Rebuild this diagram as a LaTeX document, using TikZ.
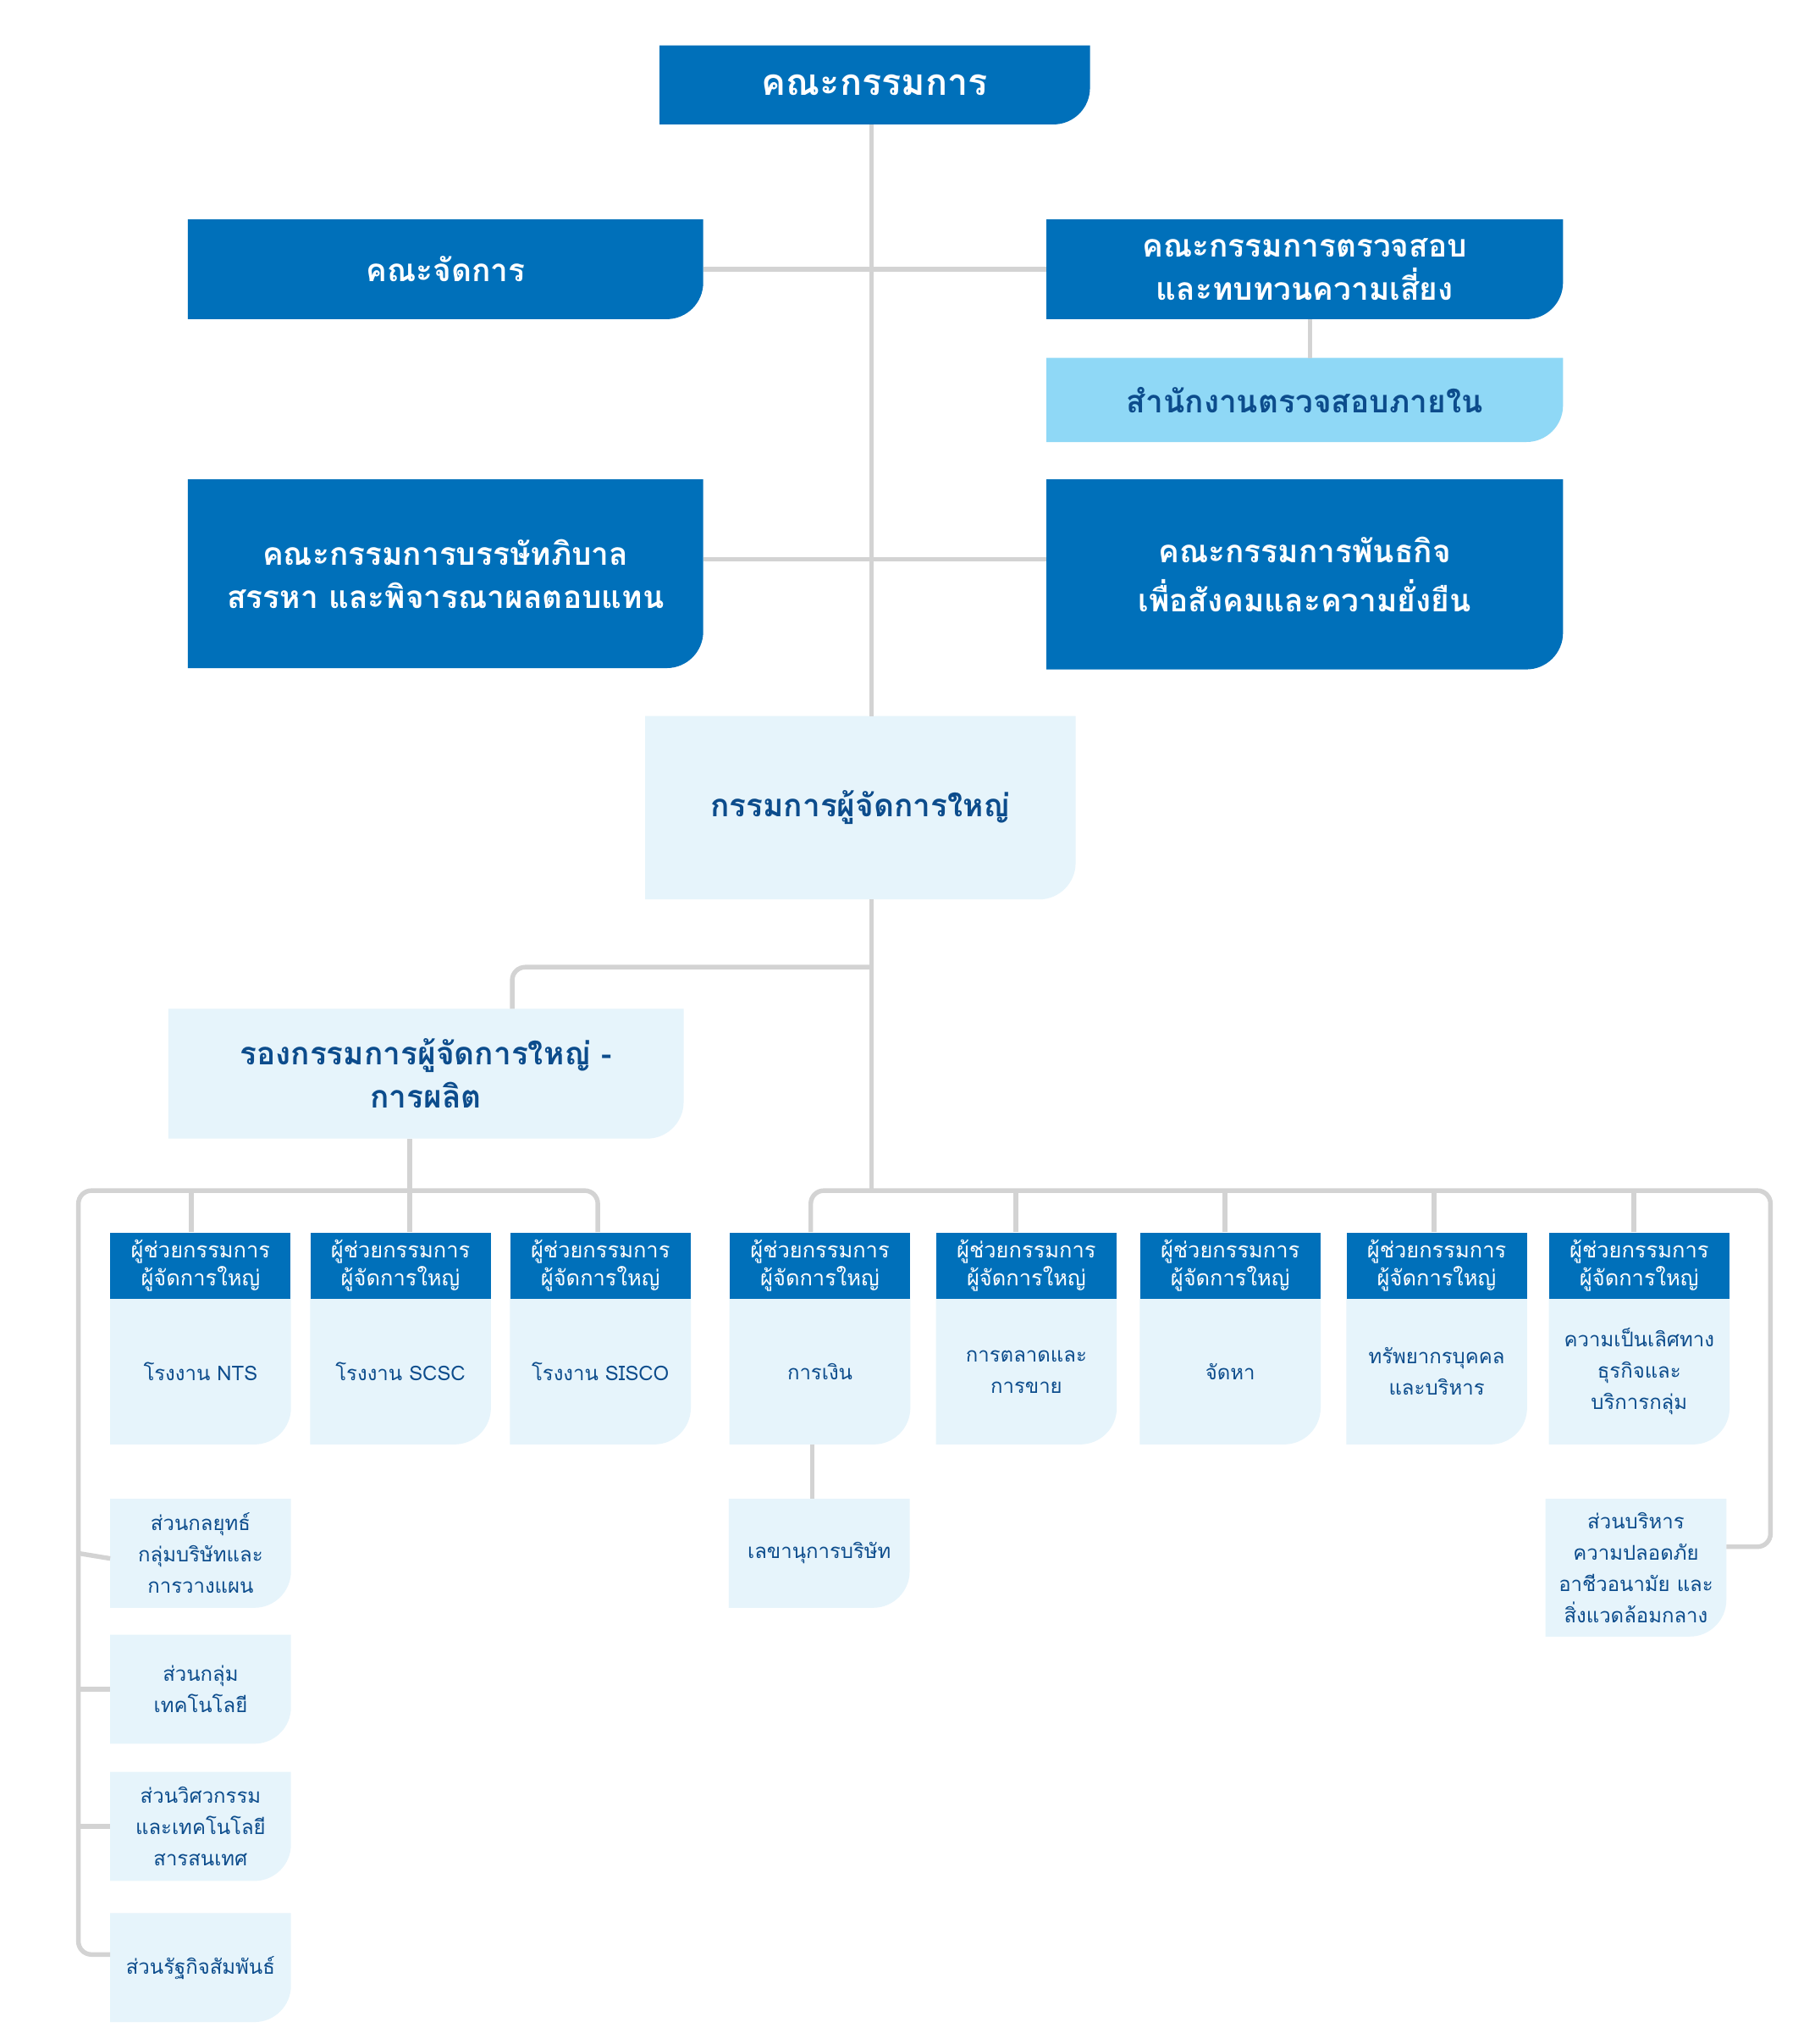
\documentclass[tikz,border=0pt]{standalone}
\usepackage{fontspec}
\newfontfamily\thai[Script=Thai]{Loma}
\usetikzlibrary{backgrounds}

\definecolor{azul}{RGB}{0,112,186}
\definecolor{celeste}{RGB}{143,216,246}
\definecolor{claro}{RGB}{230,244,251}
\definecolor{marinho}{RGB}{12,76,140}
\definecolor{cinza}{RGB}{211,211,211}

% caixa com o canto inferior direito arredondado
\newcommand{\caixa}[2]{\fill[#2] (#1.north west) -- (#1.north east) -- ([yshift=28pt]#1.south east) arc[start angle=0, end angle=-90, radius=28pt] -- (#1.south west) -- cycle;}

\begin{document}
\begin{tikzpicture}[x=1pt, y=-1pt]

    % estilos
    \tikzstyle{titulo}=[text=white, font=\thai\bfseries\fontsize{24}{33}\selectfont, align=center, inner sep=0pt]
    \tikzstyle{destaque}=[text=marinho, font=\thai\bfseries\fontsize{24}{33}\selectfont, align=center, inner sep=0pt]
    \tikzstyle{cabeca}=[fill=azul, text=white, font=\thai\fontsize{16.5}{21}\selectfont, align=center, minimum width=138pt, minimum height=51pt, inner sep=0pt]
    \tikzstyle{corpo}=[text=marinho, font=\thai\fontsize{15.5}{24}\selectfont, align=center, minimum width=138pt, inner sep=0pt]
    \tikzstyle{linha}=[cinza, line width=3.5pt]

    \useasboundingbox (0,0) rectangle (1389,1564);

    % diretoria
    \node[titulo, font=\thai\bfseries\fontsize{28}{33}\selectfont, minimum width=329pt, minimum height=60pt] (board) at (669.5,65) {คณะกรรมการ};
    \node[titulo, minimum width=394pt, minimum height=76pt] (mgmt) at (341,206) {คณะจัดการ};
    \node[titulo, minimum width=395pt, minimum height=76pt] (audit) at (998.5,206) {คณะกรรมการตรวจสอบ\\และทบทวนความเสี่ยง};
    \node[destaque, minimum width=395pt, minimum height=64pt] (ia) at (998.5,306) {สำนักงานตรวจสอบภายใน};
    \node[titulo, minimum width=394pt, minimum height=144pt] (gov) at (341,439) {คณะกรรมการบรรษัทภิบาล\\สรรหา และพิจารณาผลตอบแทน};
    \node[titulo, minimum width=395pt, minimum height=145pt] (csr) at (998.5,439.5) {คณะกรรมการพันธกิจ\\[5pt]เพื่อสังคมและความยั่งยืน};
    \node[destaque, minimum width=329pt, minimum height=140pt] (ceo) at (658.5,618) {\raisebox{-4pt}{กรรมการผู้จัดการใหญ่}};
    \node[destaque, minimum width=394pt, minimum height=99pt] (svp) at (326,821.5) {รองกรรมการผู้จัดการใหญ่ -\\การผลิต};

    % ผู้ช่วยกรรมการผู้จัดการใหญ่
    \node[cabeca] (h1) at (153.5,968.5) {ผู้ช่วยกรรมการ\\ผู้จัดการใหญ่};
    \node[cabeca] (h2) at (306.5,968.5) {ผู้ช่วยกรรมการ\\ผู้จัดการใหญ่};
    \node[cabeca] (h3) at (459.5,968.5) {ผู้ช่วยกรรมการ\\ผู้จัดการใหญ่};
    \node[cabeca] (h4) at (627.5,968.5) {ผู้ช่วยกรรมการ\\ผู้จัดการใหญ่};
    \node[cabeca] (h5) at (785.5,968.5) {ผู้ช่วยกรรมการ\\ผู้จัดการใหญ่};
    \node[cabeca] (h6) at (941.5,968.5) {ผู้ช่วยกรรมการ\\ผู้จัดการใหญ่};
    \node[cabeca] (h7) at (1099.5,968.5) {ผู้ช่วยกรรมการ\\ผู้จัดการใหญ่};
    \node[cabeca] (h8) at (1254.5,968.5) {ผู้ช่วยกรรมการ\\ผู้จัดการใหญ่};

    \node[corpo, minimum height=111pt] (b1) at (153.5,1049.5) {โรงงาน NTS};
    \node[corpo, minimum height=111pt] (b2) at (306.5,1049.5) {โรงงาน SCSC};
    \node[corpo, minimum height=111pt] (b3) at (459.5,1049.5) {โรงงาน SISCO};
    \node[corpo, minimum height=111pt] (b4) at (627.5,1049.5) {การเงิน};
    \node[corpo, minimum height=111pt] (b5) at (785.5,1049.5) {การตลาดและ\\การขาย};
    \node[corpo, minimum height=111pt] (b6) at (941.5,1049.5) {จัดหา};
    \node[corpo, minimum height=111pt] (b7) at (1099.5,1049.5) {ทรัพยากรบุคคล\\และบริหาร};
    \node[corpo, minimum height=111pt] (b8) at (1254.5,1049.5) {ความเป็นเลิศทาง\\ธุรกิจและ\\บริการกลุ่ม};

    % ส่วนงาน
    \node[corpo, minimum height=83pt] (s1) at (153.5,1188.5) {ส่วนกลยุทธ์\\กลุ่มบริษัทและ\\การวางแผน};
    \node[corpo, minimum height=83pt] (s2) at (153.5,1292.5) {ส่วนกลุ่ม\\เทคโนโลยี};
    \node[corpo, minimum height=83pt] (s3) at (153.5,1397.5) {ส่วนวิศวกรรม\\และเทคโนโลยี\\สารสนเทศ};
    \node[corpo, minimum height=83pt] (s4) at (153.5,1505.5) {ส่วนรัฐกิจสัมพันธ์};
    \node[corpo, minimum height=83pt] (sec) at (627,1188.5) {เลขานุการบริษัท};
    \node[corpo, minimum height=105pt] (she) at (1252,1199.5) {ส่วนบริหาร\\ความปลอดภัย\\อาชีวอนามัย และ\\สิ่งแวดล้อมกลาง};

    % fundos
    \begin{scope}[on background layer]
        \fill[white] (0,0) rectangle (1389,1564);
        \foreach \n in {board, mgmt, audit, gov, csr} {\caixa{\n}{azul}}
        \caixa{ia}{celeste}
        \foreach \n in {ceo, svp, b1, b2, b3, b4, b5, b6, b7, b8, s1, s2, s3, s4, sec, she} {\caixa{\n}{claro}}
    \end{scope}

    % pontos dos barramentos
    \coordinate (t1) at (667,740);
    \coordinate (lb) at (60,911);
    \coordinate (rb) at (1355,911);
    \coordinate (t2) at (667,911);
    \coordinate (j2) at (667,428);

    % ligações de cima
    \draw[linha] (board.south -| t1) -- (ceo.north -| t1);
    \draw[linha] (ceo.south -| t1) -- (t2);
    \draw[linha] (mgmt.east) -- (audit.west);
    \draw[linha] (gov.east |- j2) -- (csr.west |- j2);
    \draw[linha] ([xshift=4pt]audit.south) -- ([xshift=4pt]ia.north);
    \draw[linha, rounded corners=10pt] (t1) -| ([xshift=66pt]svp.north);
    \draw[linha] ([xshift=7pt]h2.north) -- ([xshift=7pt]h2.north |- svp.south);

    % barramento da esquerda
    \draw[linha, rounded corners=10pt] ([xshift=-2pt]h3.north) |- (lb) |- ([yshift=10pt]s4.west);
    \draw[linha] ([xshift=-7pt]h1.north) -- ([xshift=-7pt]h1.north |- lb);
    \draw[linha] (s1.west -| lb) -- ([yshift=-4pt]s1.west);
    \draw[linha] (s2.west -| lb) -- (s2.west);
    \draw[linha] (s3.west -| lb) -- (s3.west);

    % barramento da direita
    \draw[linha, rounded corners=10pt] ([xshift=-7pt]h4.north) |- (rb) |- ([yshift=16pt]she.east);
    \draw[linha] ([xshift=-8pt]h5.north) -- ([xshift=-8pt]h5.north |- rb);
    \draw[linha] ([xshift=-4pt]h6.north) -- ([xshift=-4pt]h6.north |- rb);
    \draw[linha] ([xshift=-2pt]h7.north) -- ([xshift=-2pt]h7.north |- rb);
    \draw[linha] ([xshift=-4pt]h8.north) -- ([xshift=-4pt]h8.north |- rb);
    \draw[linha] ([xshift=-6pt]b4.south) -- ([xshift=-6pt]b4.south |- sec.north);

\end{tikzpicture}
\end{document}
